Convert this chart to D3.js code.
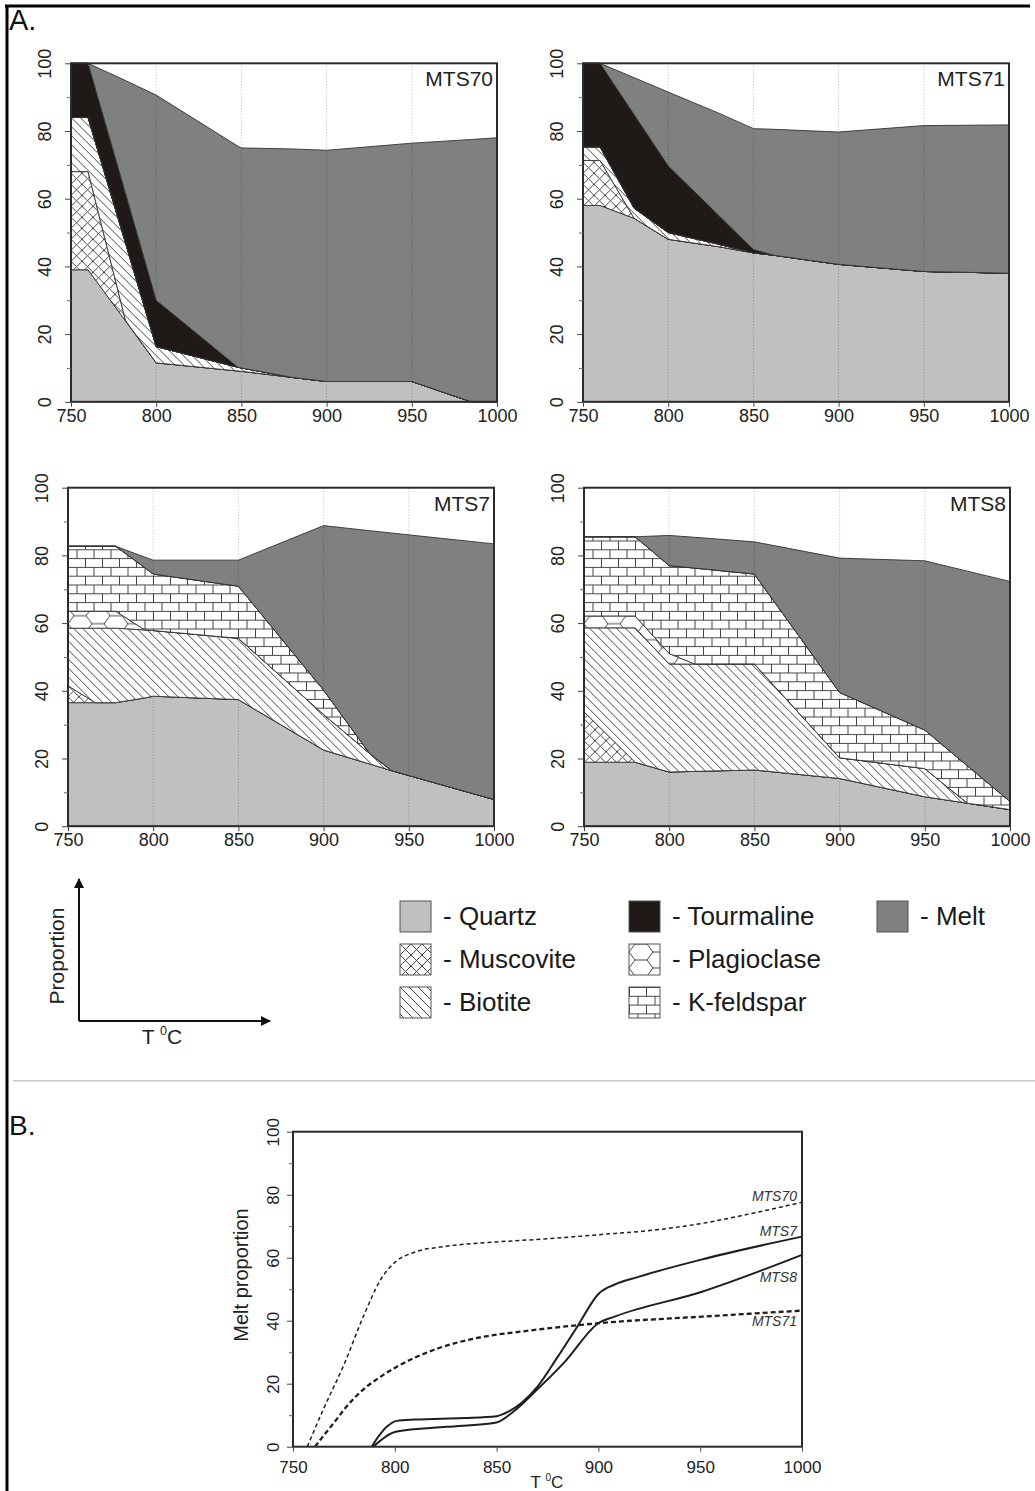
<!DOCTYPE html>
<html>
<head>
<meta charset="utf-8">
<script src="https://cdn.jsdelivr.net/npm/d3@7"></script>
<style>
  body { margin: 0; background: #fff; }
  svg { display: block; font-family: "Liberation Sans", Arial, sans-serif; }
</style>
</head>
<body>
<svg id="fig" width="1035" height="1491"></svg>
<script>
// ---- data ----
const mineralKeys = ["Quartz", "Muscovite", "Biotite", "Plagioclase", "K-feldspar", "Tourmaline", "Melt"];
const tempTicks = [750, 800, 850, 900, 950, 1000];
const propTicks = [0, 20, 40, 60, 80, 100];
const propMinor = [10, 30, 50, 70, 90];
const gridTemps = [800, 850, 900, 950];

// mineral proportions (%) per temperature step, stacked from bottom
const mts70 = {
    T:          [750, 760, 782, 800, 848, 850, 880, 900, 950, 985, 1000],
    Quartz:     [39, 39, 23.9, 11.5, 9.1, 9, 7.2, 6, 6, 0, 0],
    Muscovite:  [29, 29, 0.1, 0, 0, 0, 0, 0, 0, 0, 0],
    Biotite:    [16, 16, 22.9, 4.8, 1.1, 1, 0, 0, 0, 0, 0],
    Tourmaline: [16, 16, 14.7, 13.7, 0, 0, 0, 0, 0, 0, 0],
    Melt:       [0, 0, 33.3, 60.6, 65.3, 65, 67.5, 68.3, 70.4, 77.5, 78]
};
const mts71 = {
    T:          [750, 760, 780, 800, 830, 850, 862, 900, 950, 1000],
    Quartz:     [58, 58, 54.2, 48, 45.8, 44, 43.3, 40.6, 38.5, 38],
    Muscovite:  [13.3, 13.3, 0, 0, 0, 0, 0, 0, 0, 0],
    Biotite:    [4, 4, 3, 2, 0.7, 0, 0, 0, 0, 0],
    Tourmaline: [24.7, 24.7, 27.65, 19.7, 8.4, 1, 0, 0, 0, 0],
    Melt:       [0, 0, 10.9, 21.8, 30.3, 35.7, 37.2, 39.1, 43.1, 43.8]
};
const mts7 = {
    T:            [750, 766, 778, 795, 800, 850, 900, 927, 940, 1000],
    Quartz:       [36.5, 36.5, 36.5, 37.9, 38.4, 37.4, 22.5, 18.4, 16.4, 7.9],
    Muscovite:    [5, 0, 0, 0, 0, 0, 0, 0, 0, 0],
    Biotite:      [17, 22, 22, 20.1, 19.4, 18.1, 10.5, 3.1, 0, 0],
    Plagioclase:  [5, 5, 5, 0, 0, 0, 0, 0, 0, 0],
    "K-feldspar": [19.2, 19.2, 19.2, 18.4, 16.7, 15.4, 7.2, 0, 0, 0],
    Melt:         [0, 0, 0, 3.1, 4.1, 7.7, 48.6, 65.8, 70.2, 75.5]
};
const mts8 = {
    T:            [750, 780, 800, 815, 850, 900, 950, 975, 1000],
    Quartz:       [18.9, 18.9, 16, 16.2, 16.6, 14.1, 8.7, 6.8, 4.9],
    Muscovite:    [14.9, 0, 0, 0, 0, 0, 0, 0, 0],
    Biotite:      [24.8, 39.7, 31.9, 31.7, 31.3, 6.1, 8.3, 0, 0],
    Plagioclase:  [3.5, 3.5, 3.1, 0, 0, 0, 0, 0, 0],
    "K-feldspar": [23.4, 23.4, 26, 28.35, 26.6, 19.3, 11.4, 11.05, 2.4],
    Melt:         [0, 0, 8.9, 9.1, 9.5, 39.7, 50, 57.5, 65]
};

// panel B: melt proportion curves [T, %]
const meltMTS70 = [[757, 0], [765, 12], [775, 26], [785, 42], [793, 53], [800, 58.5], [810, 61.8], [825, 63.6],
                   [850, 65], [875, 66], [900, 67.3], [925, 68.6], [950, 70.8], [975, 74], [1000, 77.6]];
const meltMTS71 = [[760.8, 0], [765, 3.5], [770, 7.5], [776, 12.5], [783, 17.3], [792, 21.8], [801, 25.4],
                   [819, 30.7], [843.5, 34.9], [861.5, 36.5], [900, 39.2], [951, 41.3], [1000, 43.2]];
const meltMTS7  = [[788.6, 0], [796, 6.3], [801, 8.2], [810, 8.6], [834, 9.1], [850, 9.7], [856, 11.2], [862, 13.8],
                   [870, 19], [880, 28.5], [890, 38.5], [900, 48.5], [908, 51.5], [920, 54], [950, 59.3], [1000, 66.7]];
const meltMTS8  = [[789.4, 0], [801, 4.8], [825.5, 6.3], [850, 7.7], [858, 11], [868.9, 17.5], [883.6, 27],
                   [900, 39.2], [908, 41.3], [950.9, 49.2], [1000, 60.9]];

// ---- drawing ----
const svg = d3.select("#fig");
const defs = svg.append("defs");
const ink = "#2b2b2b";
const fmt = d3.format("d");

function addPattern(id, w, h, d) {
    const p = defs.append("pattern")
        .attr("id", id)
        .attr("patternUnits", "userSpaceOnUse")
        .attr("width", w)
        .attr("height", h);
    p.append("rect").attr("width", w).attr("height", h).attr("fill", "#fff");
    p.append("path").attr("d", d).attr("fill", "none").attr("stroke", "#333").attr("stroke-width", 0.9);
}
addPattern("pat-bio", 9, 9, "M0,0L9,9M-4.5,4.5L4.5,13.5M4.5,-4.5L13.5,4.5");
addPattern("pat-mus", 11, 11, "M0,0L11,11M-5.5,5.5L5.5,16.5M5.5,-5.5L16.5,5.5M0,11L11,0M-5.5,5.5L5.5,-5.5M5.5,16.5L16.5,5.5");
addPattern("pat-plag", 36, 16, "M0,8L6,0L18,0L24,8L18,16L6,16ZM24,8L36,8");
addPattern("pat-kfs", 17, 17.6, "M0,0.5H17M0,9.3H17M0.5,0.5V9.3M9,9.3V17.6");

const fills = {
    "Quartz": "#c0c0c0",
    "Muscovite": "url(#pat-mus)",
    "Biotite": "url(#pat-bio)",
    "Plagioclase": "url(#pat-plag)",
    "K-feldspar": "url(#pat-kfs)",
    "Tourmaline": "#1f1a17",
    "Melt": "#808080"
};

// outer frame (top and left only) and section labels
svg.append("line").attr("x1", 5).attr("x2", 1030).attr("y1", 6).attr("y2", 6)
    .attr("stroke", "#000").attr("stroke-width", 3);
svg.append("line").attr("x1", 7).attr("x2", 7).attr("y1", 5).attr("y2", 1491)
    .attr("stroke", "#000").attr("stroke-width", 3);
svg.append("text").attr("x", 9).attr("y", 30).attr("font-size", 29).attr("fill", "#111").text("A.");
svg.append("text").attr("x", 9).attr("y", 1135).attr("font-size", 28).attr("fill", "#111").text("B.");
svg.append("line").attr("x1", 13).attr("x2", 1035).attr("y1", 1080.7).attr("y2", 1080.7)
    .attr("stroke", "#c8c8c8").attr("stroke-width", 1.5);

// ---- panel A: stacked mineral areas ----
const pw = 426, ph = 338.5;
const panels = [
    { name: "MTS70", data: mts70, left: 71, top: 63.3 },
    { name: "MTS71", data: mts71, left: 583, top: 63.3 },
    { name: "MTS7", data: mts7, left: 68, top: 487.7 },
    { name: "MTS8", data: mts8, left: 584, top: 487.7 }
];

const x = d3.scaleLinear().domain([750, 1000]).range([0, pw]);
const y = d3.scaleLinear().domain([0, 100]).range([ph, 0]);

panels.forEach(p => {
    const g = svg.append("g").attr("transform", `translate(${p.left},${p.top})`);

    const rows = p.data.T.map((t, i) => {
        const r = { T: t };
        mineralKeys.forEach(k => r[k] = p.data[k] ? p.data[k][i] : 0);
        return r;
    });
    const series = d3.stack().keys(mineralKeys)(rows);

    const area = d3.area()
        .x(d => x(d.data.T))
        .y0(d => y(d[0]))
        .y1(d => y(d[1]));

    g.selectAll("path.layer")
        .data(series)
        .join("path")
        .attr("class", "layer")
        .attr("d", area)
        .attr("fill", d => fills[d.key])
        .attr("stroke", "#333")
        .attr("stroke-width", 0.9)
        .attr("stroke-linejoin", "round");

    // dotted vertical grid
    g.selectAll("line.grid")
        .data(gridTemps)
        .join("line")
        .attr("class", "grid")
        .attr("x1", d => x(d)).attr("x2", d => x(d))
        .attr("y1", 0).attr("y2", ph)
        .attr("stroke", "rgba(0,0,0,0.28)")
        .attr("stroke-dasharray", "1,2");

    g.append("rect")
        .attr("width", pw).attr("height", ph)
        .attr("fill", "none").attr("stroke", ink).attr("stroke-width", 2);

    // y axis, labels rotated
    g.append("g")
        .call(d3.axisLeft(y).tickValues(propTicks).tickSize(6))
        .attr("color", "#444")
        .attr("font-size", 18).attr("font-family", null)
        .call(a => a.select(".domain").remove())
        .call(a => a.selectAll("text")
            .attr("fill", "#222")
            .attr("transform", "rotate(-90)")
            .attr("x", 0).attr("y", -20).attr("dy", 0)
            .attr("text-anchor", "middle"));
    g.append("g")
        .call(d3.axisLeft(y).tickValues(propMinor).tickSize(4).tickFormat(""))
        .attr("color", "#666")
        .call(a => a.select(".domain").remove());

    g.append("g")
        .attr("transform", `translate(0,${ph})`)
        .call(d3.axisBottom(x).tickValues(tempTicks).tickFormat(fmt).tickSize(5).tickPadding(2))
        .attr("color", "#444")
        .attr("font-size", 18).attr("font-family", null)
        .call(a => a.select(".domain").remove())
        .call(a => a.selectAll("text").attr("fill", "#222"));

    g.append("text")
        .attr("x", pw - 4).attr("y", 23)
        .attr("text-anchor", "end")
        .attr("font-size", 21).attr("fill", "#222")
        .text(p.name);
});

// ---- schematic axes + legend ----
defs.append("marker")
    .attr("id", "arrow")
    .attr("viewBox", "0 0 10 10")
    .attr("refX", 9).attr("refY", 5)
    .attr("markerWidth", 5).attr("markerHeight", 5)
    .attr("markerUnits", "strokeWidth")
    .attr("orient", "auto")
    .append("path").attr("d", "M0,0L10,5L0,10Z").attr("fill", "#111");

svg.append("path")
    .attr("d", "M79,1021V879")
    .attr("stroke", "#111").attr("stroke-width", 2).attr("marker-end", "url(#arrow)");
svg.append("path")
    .attr("d", "M79,1021H270")
    .attr("stroke", "#111").attr("stroke-width", 2).attr("marker-end", "url(#arrow)");
svg.append("text")
    .attr("transform", "translate(64,956) rotate(-90)")
    .attr("text-anchor", "middle").attr("font-size", 21).attr("fill", "#222")
    .text("Proportion");

function tempLabel(sel, cx, baseY, size) {
    const t = sel.append("text")
        .attr("x", cx).attr("y", baseY)
        .attr("text-anchor", "middle").attr("font-size", size).attr("fill", "#222");
    t.append("tspan").text("T ");
    t.append("tspan").attr("font-size", size * 0.6).attr("dy", -size * 0.42).text("0");
    t.append("tspan").attr("dy", size * 0.42).text("C");
}
tempLabel(svg, 162, 1044, 21);

const legendItems = [
    { key: "Quartz", col: 0, row: 0 },
    { key: "Muscovite", col: 0, row: 1 },
    { key: "Biotite", col: 0, row: 2 },
    { key: "Tourmaline", col: 1, row: 0 },
    { key: "Plagioclase", col: 1, row: 1 },
    { key: "K-feldspar", col: 1, row: 2 },
    { key: "Melt", col: 2, row: 0 }
];
const legendCols = [400, 629, 877];
const legendRows = [901, 944, 987];

const legend = svg.append("g").attr("class", "legend");
const li = legend.selectAll("g")
    .data(legendItems)
    .join("g")
    .attr("transform", d => `translate(${legendCols[d.col]},${legendRows[d.row]})`);
li.append("rect")
    .attr("width", 31).attr("height", 31)
    .attr("fill", d => fills[d.key])
    .attr("stroke", "#555").attr("stroke-width", 1);
li.append("text")
    .attr("x", 43).attr("y", 24)
    .attr("font-size", 26).attr("fill", "#1a1a1a")
    .text(d => "- " + d.key);

// ---- panel B: melt proportion curves ----
const bx = d3.scaleLinear().domain([750, 1000]).range([293, 802]);
const by = d3.scaleLinear().domain([0, 100]).range([1446.7, 1131.7]);

const meltSeries = [
    { name: "MTS70", pts: meltMTS70, dash: "4,3", width: 1.5, dy: -6 },
    { name: "MTS7", pts: meltMTS7, dash: null, width: 2, dy: -6 },
    { name: "MTS8", pts: meltMTS8, dash: null, width: 2, dy: 22 },
    { name: "MTS71", pts: meltMTS71, dash: "5,3", width: 2.3, dy: 10 }
];

const line = d3.line()
    .x(d => bx(d[0]))
    .y(d => by(d[1]))
    .curve(d3.curveMonotoneX);

const gb = svg.append("g");

gb.selectAll("path.melt")
    .data(meltSeries)
    .join("path")
    .attr("class", "melt")
    .attr("d", d => line(d.pts))
    .attr("fill", "none")
    .attr("stroke", "#1e1e1e")
    .attr("stroke-width", d => d.width)
    .attr("stroke-dasharray", d => d.dash);

gb.selectAll("text.mlabel")
    .data(meltSeries)
    .join("text")
    .attr("class", "mlabel")
    .attr("x", 797)
    .attr("y", d => by(d.pts[d.pts.length - 1][1]) + d.dy + 5)
    .attr("text-anchor", "end")
    .attr("font-size", 14).attr("font-style", "italic").attr("fill", "#333")
    .text(d => d.name);

gb.append("rect")
    .attr("x", 293).attr("y", 1131.7)
    .attr("width", 509).attr("height", 315)
    .attr("fill", "none").attr("stroke", ink).attr("stroke-width", 2);

gb.append("g")
    .attr("transform", "translate(293,0)")
    .call(d3.axisLeft(by).tickValues(propTicks).tickSize(6))
    .attr("color", "#444")
    .attr("font-size", 17).attr("font-family", null)
    .call(a => a.select(".domain").remove())
    .call(a => a.selectAll("text")
        .attr("fill", "#222")
        .attr("transform", "rotate(-90)")
        .attr("x", 0).attr("y", -14).attr("dy", 0)
        .attr("text-anchor", "middle"));
gb.append("g")
    .attr("transform", "translate(293,0)")
    .call(d3.axisLeft(by).tickValues(propMinor).tickSize(4).tickFormat(""))
    .attr("color", "#666")
    .call(a => a.select(".domain").remove());

gb.append("g")
    .attr("transform", "translate(0,1446.7)")
    .call(d3.axisBottom(bx).tickValues(tempTicks).tickFormat(fmt).tickSize(5).tickPadding(9))
    .attr("color", "#444")
    .attr("font-size", 17).attr("font-family", null)
    .call(a => a.select(".domain").remove())
    .call(a => a.selectAll("text").attr("fill", "#222"));

gb.append("text")
    .attr("transform", "translate(248,1275) rotate(-90)")
    .attr("text-anchor", "middle").attr("font-size", 20).attr("fill", "#222")
    .text("Melt proportion");

tempLabel(gb, 547, 1488, 17);
</script>
</body>
</html>
